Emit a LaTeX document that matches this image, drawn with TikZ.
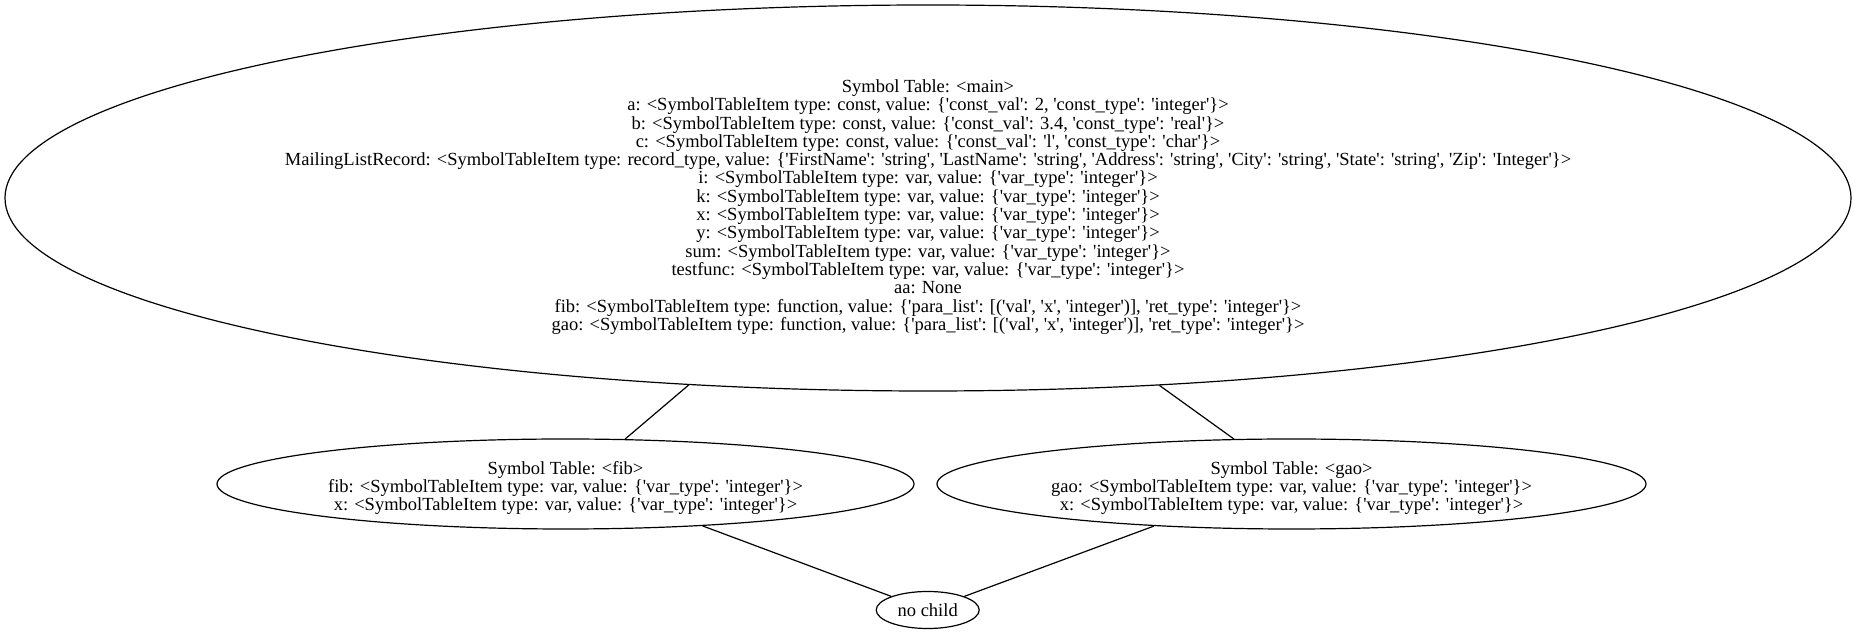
\documentclass[tikz,border=0pt]{standalone}
\usepackage{fontspec}
\setmainfont{Liberation Serif}[Ligatures=TeXOff]
\usetikzlibrary{shapes.geometric}

\newcommand{\varitem}{<SymbolTableItem type: var, value: \{'var\_type': 'integer'\}>}
\newcommand{\funitem}{<SymbolTableItem type: function, value: \{'para\_list': [('val', 'x', 'integer')], 'ret\_type': 'integer'\}>}

\tikzset{
  symtab/.style={draw, ellipse, inner sep=0pt, font=\fontsize{18.5}{18.3}\selectfont},
  tabtext/.style={inner sep=0pt, align=center, font=\fontsize{18.5}{18.3}\selectfont},
}

\begin{document}
\begin{tikzpicture}[x=1pt, y=1pt, line width=1.2pt]
  \useasboundingbox (0,0) rectangle (1856,634);
  % the tables
  \node[symtab, minimum width=1846pt, minimum height=386pt] (main) at (928,436) {};
  \node[tabtext] (maintext) at ([yshift=-9pt]main.center) {Symbol Table: <main>\\
    a: <SymbolTableItem type: const, value: \{'const\_val': 2, 'const\_type': 'integer'\}>\\
    b: <SymbolTableItem type: const, value: \{'const\_val': 3.4, 'const\_type': 'real'\}>\\
    c: <SymbolTableItem type: const, value: \{'const\_val': 'l', 'const\_type': 'char'\}>\\
    MailingListRecord: <SymbolTableItem type: record\_type, value: \{'FirstName': 'string', 'LastName': 'string', 'Address': 'string', 'City': 'string', 'State': 'string', 'Zip': 'Integer'\}>\\
    i: \varitem\\
    k: \varitem\\
    x: \varitem\\
    y: \varitem\\
    sum: \varitem\\
    testfunc: \varitem\\
    aa: None\\
    fib: \funitem\\
    gao: \funitem};
  \node[symtab, minimum width=697pt, minimum height=90pt] (fib) at (565.5,150) {};
  \node[tabtext] (fibtext) at ([yshift=-4pt]fib.center) {Symbol Table: <fib>\\
    fib: \varitem\\
    x: \varitem};
  \node[symtab, minimum width=709pt, minimum height=90pt] (gao) at (1291.5,150) {};
  \node[tabtext] (gaotext) at ([yshift=-4pt]gao.center) {Symbol Table: <gao>\\
    gao: \varitem\\
    x: \varitem};
  \node[symtab, minimum width=103pt, minimum height=37pt] (nochild) at (927.7,24) {no child};
  % the edges
  \draw (main.218.5) -- (fib.37.2);
  \draw (main.321.5) -- (gao.142.8);
  \draw (fib.-17.4) -- (nochild);
  \draw (gao.197.4) -- (nochild);
\end{tikzpicture}
\end{document}
